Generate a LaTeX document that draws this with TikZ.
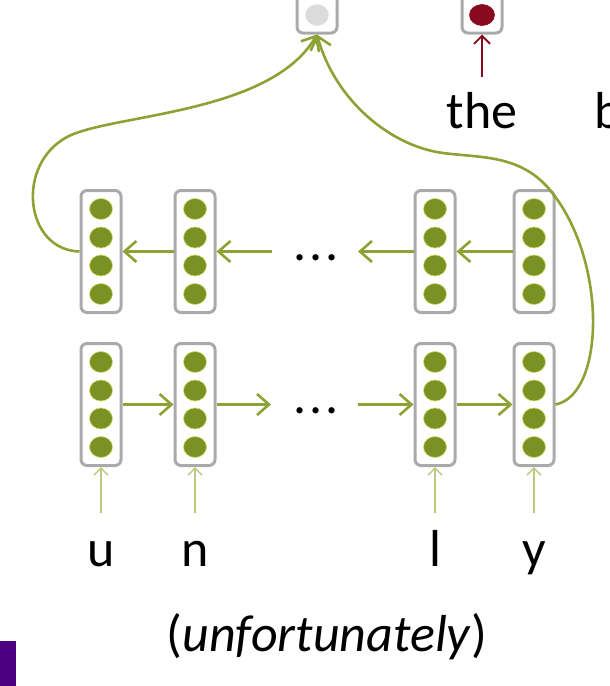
\documentclass[tikz,border=0pt]{standalone}
\usepackage{fontspec}
\setmainfont{Carlito}
\usetikzlibrary{arrows.meta,shapes.geometric}

\definecolor{rnngreen}{RGB}{140,162,52}
\definecolor{unitgreen}{RGB}{122,145,36}
\definecolor{unitrim}{RGB}{210,220,100}
\definecolor{boxgray}{RGB}{170,170,170}
\definecolor{inputgreen}{RGB}{190,200,125}
\definecolor{wordred}{RGB}{135,10,30}
\definecolor{slidepurple}{RGB}{75,0,130}

\begin{document}
\begin{tikzpicture}[x=1pt,y=-1pt]
  \tikzstyle{vec}=[draw=boxgray, line width=3pt, rounded corners=6pt, fill=white, minimum width=40pt, minimum height=122pt, inner sep=0pt]
  \tikzstyle{unit}=[ellipse, fill=unitgreen, draw=unitrim, line width=0.6pt, minimum width=23pt, minimum height=21pt, inner sep=0pt]
  \tikzstyle{word}=[font=\fontsize{52}{60}\selectfont, inner sep=0pt, anchor=base]
  \tikzstyle{letter}=[word, text height=24pt, text depth=0pt]
  \tikzstyle{conn}=[draw=rnngreen, line width=2.6pt, -{Straight Barb[length=12pt,width=21pt]}]
  \tikzstyle{inp}=[draw=inputgreen, line width=1.5pt, -{Straight Barb[length=7pt,width=14pt]}]
  \tikzstyle{wordin}=[draw=wordred, line width=1.8pt, -{Straight Barb[length=8pt,width=16pt]}]

  \useasboundingbox (0,0) rectangle (610,686);

  % output vectors (cut off at the top)
  \node[vec] (o) at (317,-28) {};
  \node[vec] (r) at (482,-28) {};
  \path (o.center) ++(0,43) node[unit, fill=gray!28, draw=gray!20] {};
  \path (r.center) ++(0,43) node[unit, fill=wordred, draw=wordred, minimum width=25pt] {};

  % backward layer
  \node[vec] (t1) at (101,251.5) {};
  \node[vec] (t2) at (195,251.5) {};
  \node[vec] (t3) at (435,251.5) {};
  \node[vec] (t4) at (534,251.5) {};
  % forward layer
  \node[vec] (b1) at (101,404.5) {};
  \node[vec] (b2) at (195,404.5) {};
  \node[vec] (b3) at (435,404.5) {};
  \node[vec] (b4) at (534,404.5) {};

  \foreach \v in {t1,t2,t3,t4,b1,b2,b3,b4}
    \foreach \dy in {-42.5,-14,14,42.5}
      \path (\v.center) ++(0,\dy) node[unit] {};

  \node[word] (tdots) at (316,260) {.\kern3pt.\kern3pt.};
  \node[word] (bdots) at (316,413) {.\kern3pt.\kern3pt.};
  \coordinate (tl) at (272,251.5);
  \coordinate (tr) at (358,251.5);
  \coordinate (bl) at (271,404.5);
  \coordinate (br) at (358,404.5);

  \path (t2) edge[conn] (t1);
  \path (tl) edge[conn] (t2);
  \path (t3) edge[conn] (tr);
  \path (t4) edge[conn] (t3);
  \path (b1) edge[conn] (b2);
  \path (b2) edge[conn] (bl);
  \path (br) edge[conn] (b3);
  \path (b3) edge[conn] (b4);

  % characters
  \node[letter] (u) at (101,566) {u};
  \node[letter] (n) at (195,566) {n};
  \node[letter] (l) at (435,566) {l};
  \node[letter] (y) at (534,566) {y};
  \path (u) edge[inp, shorten <=29pt] (b1);
  \path (n) edge[inp, shorten <=29pt] (b2);
  \path (l) edge[inp, shorten <=29pt] (b3);
  \path (y) edge[inp, shorten <=29pt] (b4);

  \node[word] (gloss) at (327,651) {(\textit{unfortunately})};

  % words
  \node[word] (the) at (482,128) {the};
  \node[word, anchor=base west] (nextw) at (594,128) {b};
  \path (the) edge[wordin, shorten <=15pt] (r);

  % final states into the word vector
  \draw[conn] (t1.west) .. controls (25,250) and (15,165) .. (67,137)
    .. controls (110,114) and (270,115) .. (o.south);
  \draw[conn] (b4.east) .. controls (605,395) and (608,260) .. (550,190)
    .. controls (520,154) and (480,158) .. (443,153)
    .. controls (390,146) and (335,100) .. (o.south);

  \fill[slidepurple] (0,641) rectangle (15.5,686);
\end{tikzpicture}
\end{document}
